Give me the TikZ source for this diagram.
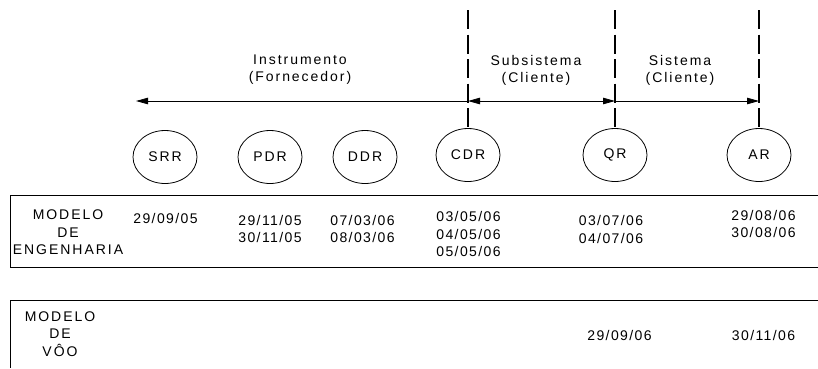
\documentclass[tikz,border=0pt]{standalone}
\usepackage{fontspec}
\setmainfont{Liberation Sans}
\newfontfamily\lblfont[LetterSpace=14]{Liberation Sans}
\newfontfamily\datefont[LetterSpace=10]{Liberation Sans}
\usetikzlibrary{arrows.meta,shapes.geometric}
\tikzset{
  milestone/.style={draw, ellipse, minimum width=64pt, minimum height=53pt, inner sep=0pt, line width=0.8pt, font=\lblfont\fontsize{14}{17}\selectfont},
  lbl/.style={anchor=north, inner sep=0pt, align=center, font=\lblfont\fontsize{14}{17.5}\selectfont},
  datelbl/.style={anchor=north, inner sep=0pt, align=center, font=\datefont\fontsize{14}{17.5}\selectfont},
  phase/.style={anchor=north, inner sep=0pt, align=center, font=\lblfont\fontsize{14}{17}\selectfont},
  divider/.style={line width=1.6pt, dash pattern=on 19pt off 5.5pt},
  span/.style={line width=0.8pt},
  tip/.style={Triangle[length=12pt,width=6.5pt]},
  frame/.style={line width=0.9pt}
}
\begin{document}
\begin{tikzpicture}[x=1pt,y=-1pt]
\useasboundingbox (0,0) rectangle (818,368);
% milestones
\node[milestone] (SRR) at (165,157) {SRR};
\node[milestone] (PDR) at (270,157) {PDR};
\node[milestone] (DDR) at (365,157) {DDR};
\node[milestone] (CDR) at (468,155) {CDR};
\node[milestone] (QR)  at (615,155) {QR};
\node[milestone] (AR)  at (759,155) {AR};
% dividers
\coordinate (t1) at (468,10);
\coordinate (t2) at (615,10);
\coordinate (t3) at (759,10);
\draw[divider] (t1) -- (CDR.north);
\draw[divider] (t2) -- (QR.north);
\draw[divider] (t3) -- (AR.north);
% spans
\coordinate (aL) at (136,101);
\coordinate (a1) at (468,101);
\coordinate (a2) at (615,101);
\coordinate (a3) at (759,101);
\draw[span, -{Triangle[length=12pt,width=6.5pt]}] (a1) -- (aL);
\draw[span, {Triangle[length=12pt,width=6.5pt]}-{Triangle[length=12pt,width=6.5pt]}] (a1) -- (a2);
\draw[span, -{Triangle[length=12pt,width=6.5pt]}] (a2) -- (a3);
\node[phase] (instr) at (300,55) {Instrumento\\(Fornecedor)};
\node[phase] (subs) at (536,55) {Subsistema\\(Cliente)};
\node[phase] (sist) at (680,55) {Sistema\\(Cliente)};
% frames
\draw[frame] (818,195) -- (10,195) -- (10,267) -- (818,267);
\draw[frame] (818,300) -- (10,300) -- (10,368);
% row labels
\node[lbl] (eng) at (68,210) {MODELO\\DE\\ENGENHARIA};
\node[lbl] (voo) at (60,311.5) {MODELO\\DE\\VÔO};
% dates
\node[datelbl] (d1) at (165.5,213) {29/09/05};
\node[datelbl] (d2) at (270,215) {29/11/05\\30/11/05};
\node[datelbl] (d3) at (362.5,215) {07/03/06\\08/03/06};
\node[datelbl] (d4) at (468.5,211.5) {03/05/06\\04/05/06\\05/05/06};
\node[datelbl] (d5) at (611,215.5) {03/07/06\\04/07/06};
\node[datelbl] (d6) at (763.5,210) {29/08/06\\30/08/06};
\node[datelbl] (v1) at (619.5,330) {29/09/06};
\node[datelbl] (v2) at (763.5,330) {30/11/06};
\end{tikzpicture}
\end{document}
